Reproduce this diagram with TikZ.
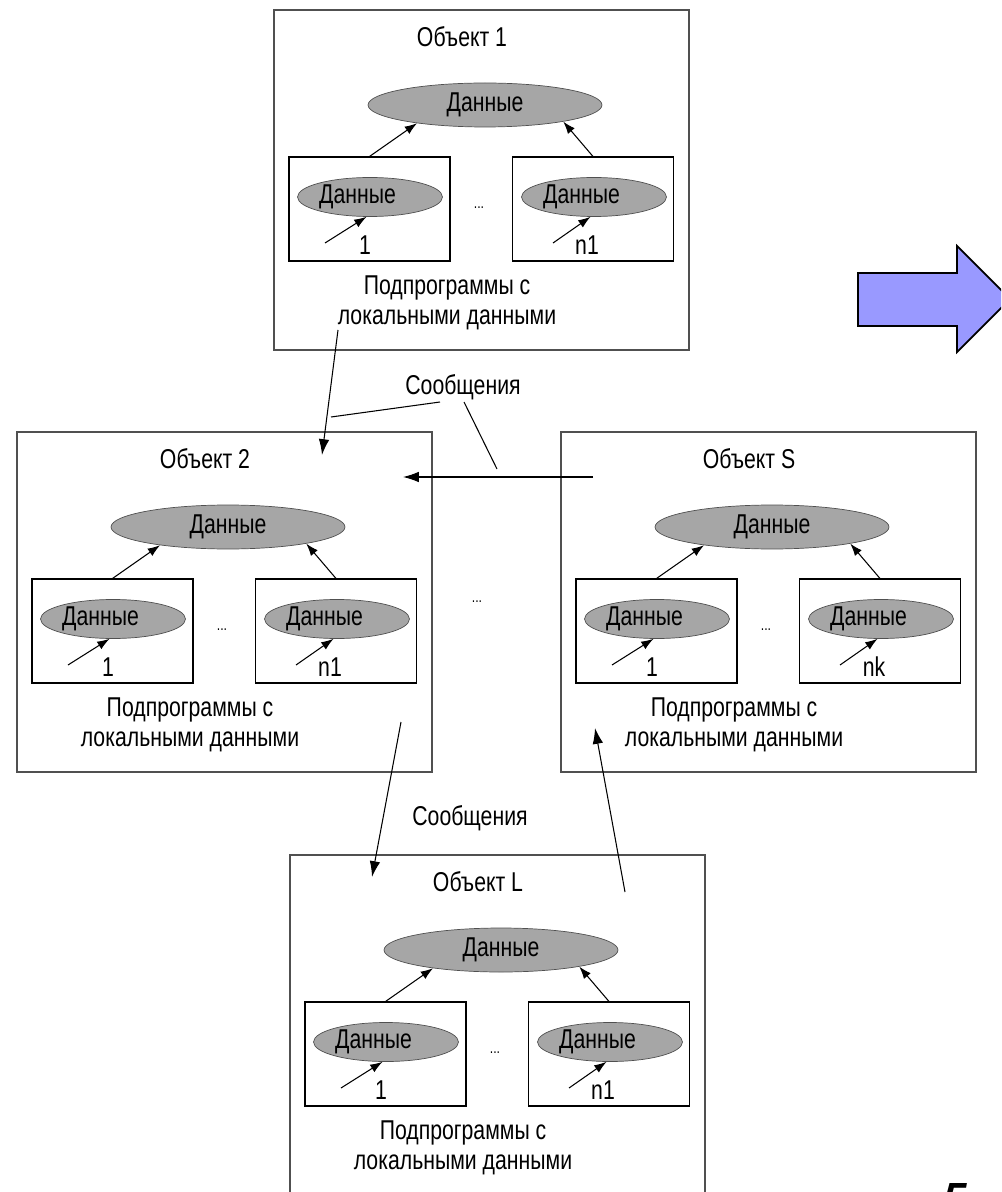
\documentclass[tikz,border=0pt]{standalone}
\usepackage{fontspec}
\setmainfont[FakeStretch=0.78]{Liberation Sans}
\newfontfamily\pagenumfont{Liberation Sans}
\usetikzlibrary{shapes.geometric,arrows.meta}
\definecolor{datagray}{RGB}{166,166,166}
\definecolor{boxgray}{RGB}{80,80,80}
\definecolor{arrowblue}{RGB}{153,153,255}

\begin{document}
\begin{tikzpicture}[x=0.02cm,y=-0.02cm,
  font=\fontsize{15.5}{17}\selectfont,
  objbox/.style={draw=boxgray,line width=0.9pt,minimum width=8.3cm,minimum height=6.8cm,inner sep=0},
  subbox/.style={draw,line width=0.6pt,minimum width=3.22cm,minimum height=2.08cm,inner sep=0},
  datatop/.style={ellipse,draw=boxgray,fill=datagray,minimum width=4.68cm,minimum height=0.88cm,inner sep=0},
  datasub/.style={ellipse,draw=boxgray,fill=datagray,minimum width=2.9cm,minimum height=0.78cm,inner sep=0},
  msg/.style={-{Latex[length=9pt,width=6pt]},line width=0.6pt},
  link/.style={-{Latex[length=7pt,width=5pt]},line width=0.6pt}]
\useasboundingbox (0,0) rectangle (1001,1192);
\clip (0,0) rectangle (1001,1192);

% the four objects
\foreach \nm/\ox/\oy/\ttl/\lbl in {o1/274/10/1/n1, o2/17/432/2/n1, oS/561/432/S/nk, oL/290/855/L/n1}{
  \begin{scope}[shift={(\ox,\oy)}]
  \node[objbox] (\nm) at (207.5,170) {};
  \node (\nm-title) at (188,27) {Объект \ttl};
  \node[datatop] (\nm-top) at (211,95) {Данные};
  \node[subbox] (\nm-l) at (95.5,199) {};
  \node[subbox] (\nm-r) at (319,199) {};
  \node[datasub] (\nm-le) at (96,187) {Данные\hspace*{0.5cm}};
  \node[datasub] (\nm-re) at (320,187) {Данные\hspace*{0.5cm}};
  \node (\nm-lnum) at (91,235) {1};
  \node (\nm-rnum) at (313,235) {\lbl};
  \node[font=\small] (\nm-dots) at (205,198) {...};
  \node[align=center] (\nm-sub) at (173,293) {Подпрограммы с\\локальными данными};
  \coordinate (\nm-ls) at (51,233);
  \coordinate (\nm-rs) at (279,233);
  \draw[link] (\nm-l.north) -- (\nm-top.195);
  \draw[link] (\nm-r.north) -- (\nm-top.348);
  \draw[link] (\nm-ls) -- (\nm-le.260);
  \draw[link] (\nm-rs) -- (\nm-re.260);
  \end{scope}
}

% messages between objects
\node (msg1) at (463,387) {Сообщения};
\node (msg2) at (470,818) {Сообщения};
\node[font=\small] (between) at (477,602) {...};
\coordinate (c1a) at (338,330);
\coordinate (c1b) at (322,455);
\coordinate (c2a) at (593,477);
\coordinate (c2b) at (403,477);
\coordinate (c3a) at (401,722);
\coordinate (c3b) at (372,877);
\coordinate (c4a) at (625,892);
\coordinate (c4b) at (595,728);
\coordinate (p1a) at (331,417);
\coordinate (p1b) at (440,402);
\coordinate (p2a) at (464,402);
\coordinate (p2b) at (497,469);
\draw[msg] (c1a) -- (c1b);
\draw[msg] (c2a) -- (c2b);
\draw[msg] (c3a) -- (c3b);
\draw[msg] (c4a) -- (c4b);
\draw[line width=0.6pt] (p1a) -- (p1b);
\draw[line width=0.6pt] (p2a) -- (p2b);

% big arrow
\draw[fill=arrowblue,line width=1pt] (858,273) -- (957,273) -- (957,246) -- (1010,299)
  -- (957,352) -- (957,326) -- (858,326) -- cycle;
\node[font=\pagenumfont\bfseries\itshape\fontsize{24}{24}\selectfont,anchor=north west,inner sep=0] (pagenum) at (943,1183) {5};
\end{tikzpicture}
\end{document}
